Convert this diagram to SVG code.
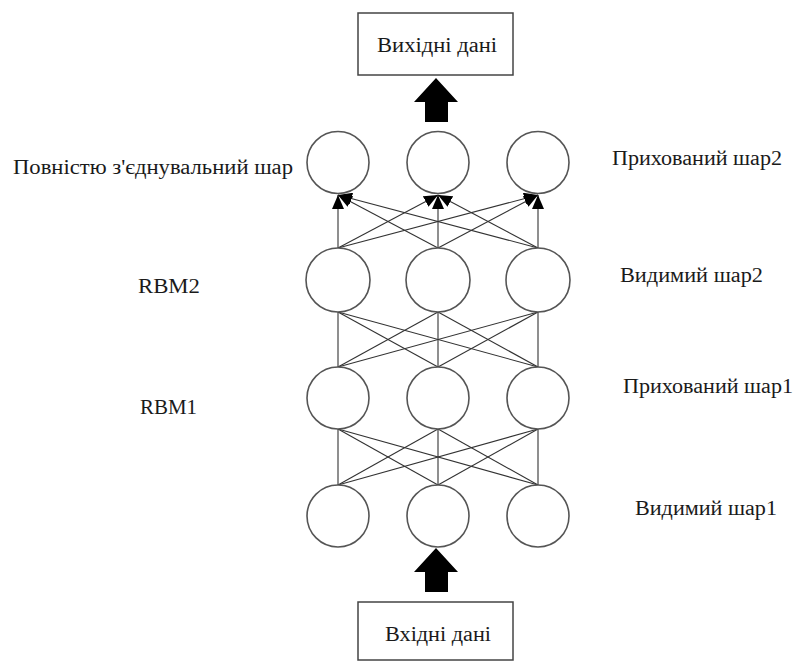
<svg xmlns="http://www.w3.org/2000/svg" width="795" height="662" viewBox="0 0 795 662">
<defs>
<style>
.bg{fill:#ffffff}
.box{fill:#ffffff;stroke:#444444;stroke-width:1.5}
.node{fill:#ffffff;stroke:#555555;stroke-width:1.6}
.edge{stroke:#333333;stroke-width:1.1;fill:none}
.blk{fill:#000000}
.t{font-size:20px;fill:#1a1a1a}
.c{text-anchor:middle}
</style>
<marker id="ah" markerUnits="userSpaceOnUse" markerWidth="14" markerHeight="12" viewBox="0 0 14 12" refX="14" refY="6" orient="auto">
<path d="M0,0 L14,6 L0,12 Z" fill="#000000"/>
</marker>
</defs>
<rect class="bg" x="0" y="0" width="795" height="662"/>

<g id="connectors">
<g id="fc" marker-end="url(#ah)">
<line class="edge" x1="338" y1="248" x2="338" y2="195"/>
<line class="edge" x1="438" y1="248" x2="338" y2="195"/>
<line class="edge" x1="538" y1="248" x2="338" y2="195"/>
<line class="edge" x1="338" y1="248" x2="438" y2="195"/>
<line class="edge" x1="438" y1="248" x2="438" y2="195"/>
<line class="edge" x1="538" y1="248" x2="438" y2="195"/>
<line class="edge" x1="338" y1="248" x2="538" y2="195"/>
<line class="edge" x1="438" y1="248" x2="538" y2="195"/>
<line class="edge" x1="538" y1="248" x2="538" y2="195"/>
</g>
<g id="rbm2">
<line class="edge" x1="338" y1="312" x2="338" y2="367"/>
<line class="edge" x1="338" y1="312" x2="438" y2="367"/>
<line class="edge" x1="338" y1="312" x2="538" y2="367"/>
<line class="edge" x1="438" y1="312" x2="338" y2="367"/>
<line class="edge" x1="438" y1="312" x2="438" y2="367"/>
<line class="edge" x1="438" y1="312" x2="538" y2="367"/>
<line class="edge" x1="538" y1="312" x2="338" y2="367"/>
<line class="edge" x1="538" y1="312" x2="438" y2="367"/>
<line class="edge" x1="538" y1="312" x2="538" y2="367"/>
</g>
<g id="rbm1">
<line class="edge" x1="338" y1="429" x2="338" y2="485"/>
<line class="edge" x1="338" y1="429" x2="438" y2="485"/>
<line class="edge" x1="338" y1="429" x2="538" y2="485"/>
<line class="edge" x1="438" y1="429" x2="338" y2="485"/>
<line class="edge" x1="438" y1="429" x2="438" y2="485"/>
<line class="edge" x1="438" y1="429" x2="538" y2="485"/>
<line class="edge" x1="538" y1="429" x2="338" y2="485"/>
<line class="edge" x1="538" y1="429" x2="438" y2="485"/>
<line class="edge" x1="538" y1="429" x2="538" y2="485"/>
</g>
<polygon id="arrow-out" class="blk" points="436,78 458,102 448,102 448,122 425,122 425,102 414,102"/>
<polygon id="arrow-in" class="blk" points="436,548 458,572 448,572 448,592 425,592 425,572 414,572"/>
</g>

<g font-family="'Liberation Serif', 'DejaVu Serif', serif">
<g id="output-box">
<rect class="box" x="358" y="13" width="155" height="62"/>
<text class="t" x="377" y="52" textLength="120" lengthAdjust="spacingAndGlyphs">Вихідні дані</text>
</g>
<g id="input-box">
<rect class="box" x="358" y="602" width="155" height="58"/>
<text class="t" x="385" y="641" textLength="106" lengthAdjust="spacingAndGlyphs">Вхідні дані</text>
</g>

<g id="h2a"><circle class="node" cx="338" cy="162.5" r="31"/></g>
<g id="h2b"><circle class="node" cx="438" cy="162.5" r="31"/></g>
<g id="h2c"><circle class="node" cx="538" cy="162.5" r="31"/></g>
<g id="v2a"><circle class="node" cx="338" cy="280" r="32"/></g>
<g id="v2b"><circle class="node" cx="438" cy="280" r="32"/></g>
<g id="v2c"><circle class="node" cx="538" cy="280" r="32"/></g>
<g id="h1a"><circle class="node" cx="338" cy="398" r="31"/></g>
<g id="h1b"><circle class="node" cx="438" cy="398" r="31"/></g>
<g id="h1c"><circle class="node" cx="538" cy="398" r="31"/></g>
<g id="v1a"><circle class="node" cx="338" cy="516" r="31"/></g>
<g id="v1b"><circle class="node" cx="438" cy="516" r="31"/></g>
<g id="v1c"><circle class="node" cx="538" cy="516" r="31"/></g>

<g id="labels">
<text class="t" x="13" y="174" textLength="280" lengthAdjust="spacingAndGlyphs">Повністю з'єднувальний шар</text>
<text class="t" x="138" y="293" textLength="62" lengthAdjust="spacingAndGlyphs">RBM2</text>
<text class="t" x="140" y="414" textLength="57" lengthAdjust="spacingAndGlyphs">RBM1</text>
<text class="t" x="612" y="165" textLength="170" lengthAdjust="spacingAndGlyphs">Прихований шар2</text>
<text class="t" x="620" y="282" textLength="143" lengthAdjust="spacingAndGlyphs">Видимий шар2</text>
<text class="t" x="623" y="393" textLength="170" lengthAdjust="spacingAndGlyphs">Прихований шар1</text>
<text class="t" x="635" y="515" textLength="142" lengthAdjust="spacingAndGlyphs">Видимий шар1</text>
</g>
</g>
</svg>
